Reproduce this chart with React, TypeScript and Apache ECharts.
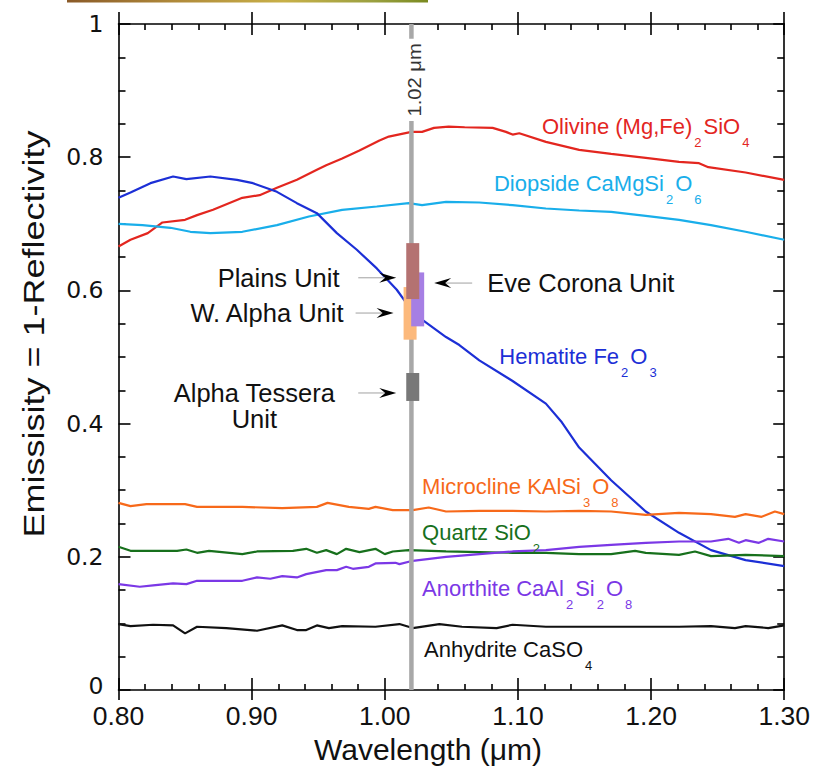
import React, { useEffect, useRef } from 'react';
import * as echarts from 'echarts';

// ---------- Data ----------
const olivineX = [0.800,0.809,0.822,0.833,0.850,0.859,0.871,0.893,0.906,0.919,0.934,0.949,0.956,0.968,0.981,0.996,1.003,1.020,1.028,1.037,1.048,1.060,1.081,1.091,1.096,1.101,1.121,1.146,1.170,1.196,1.221,1.236,1.243,1.271,1.300];
const olivineY = [0.666,0.676,0.686,0.702,0.706,0.713,0.721,0.739,0.743,0.754,0.766,0.781,0.788,0.798,0.810,0.825,0.831,0.838,0.838,0.844,0.846,0.845,0.844,0.838,0.834,0.836,0.823,0.811,0.805,0.799,0.793,0.791,0.785,0.777,0.766];

const diopsideX = [0.800,0.818,0.839,0.854,0.869,0.893,0.919,0.943,0.968,0.994,1.018,1.028,1.046,1.071,1.096,1.121,1.146,1.170,1.196,1.221,1.245,1.271,1.300];
const diopsideY = [0.700,0.698,0.694,0.688,0.686,0.688,0.698,0.711,0.721,0.726,0.731,0.728,0.733,0.732,0.728,0.723,0.720,0.718,0.712,0.706,0.698,0.688,0.676];

const hematiteX = [0.800,0.809,0.824,0.841,0.851,0.869,0.889,0.901,0.919,0.934,0.949,0.964,0.979,0.994,1.009,1.018,1.028,1.046,1.056,1.071,1.096,1.121,1.133,1.146,1.170,1.196,1.221,1.245,1.271,1.300];
const hematiteY = [0.739,0.747,0.761,0.771,0.767,0.771,0.766,0.761,0.748,0.731,0.716,0.686,0.661,0.633,0.601,0.576,0.556,0.530,0.518,0.495,0.464,0.430,0.402,0.364,0.315,0.268,0.236,0.210,0.195,0.186];

const microclineX = [0.800,0.809,0.821,0.850,0.859,0.893,0.923,0.949,0.957,0.973,0.988,0.993,1.006,1.021,1.033,1.046,1.071,1.096,1.121,1.146,1.170,1.196,1.221,1.245,1.263,1.271,1.283,1.293,1.300];
const microclineY = [0.281,0.276,0.279,0.279,0.275,0.275,0.273,0.275,0.281,0.275,0.272,0.275,0.270,0.270,0.274,0.268,0.269,0.269,0.268,0.269,0.268,0.263,0.266,0.264,0.260,0.264,0.260,0.268,0.264];

const quartzX = [0.800,0.809,0.844,0.851,0.859,0.868,0.893,0.904,0.931,0.941,0.949,0.956,0.964,0.971,0.981,0.993,1.000,1.006,1.018,1.046,1.071,1.096,1.121,1.146,1.170,1.188,1.196,1.221,1.233,1.245,1.271,1.300];
const quartzY = [0.215,0.209,0.209,0.211,0.206,0.209,0.204,0.208,0.209,0.212,0.206,0.210,0.204,0.212,0.207,0.212,0.204,0.208,0.210,0.208,0.207,0.206,0.206,0.204,0.204,0.209,0.206,0.203,0.208,0.201,0.203,0.201];

const anorthiteX = [0.800,0.816,0.826,0.841,0.851,0.859,0.893,0.904,0.914,0.923,0.934,0.941,0.956,0.964,0.971,0.976,0.988,0.993,1.008,1.011,1.021,1.046,1.071,1.096,1.121,1.146,1.170,1.196,1.221,1.245,1.258,1.266,1.271,1.281,1.288,1.300];
const anorthiteY = [0.159,0.155,0.157,0.160,0.159,0.164,0.164,0.169,0.167,0.171,0.169,0.174,0.180,0.180,0.185,0.182,0.185,0.190,0.191,0.189,0.194,0.200,0.204,0.208,0.210,0.215,0.218,0.221,0.223,0.223,0.227,0.221,0.225,0.221,0.227,0.223];

const anhydriteX = [0.800,0.809,0.826,0.841,0.850,0.859,0.881,0.904,0.923,0.934,0.941,0.949,0.958,0.968,0.993,1.011,1.021,1.041,1.058,1.084,1.096,1.121,1.146,1.170,1.196,1.221,1.245,1.263,1.271,1.288,1.300];
const anhydriteY = [0.099,0.096,0.098,0.097,0.085,0.095,0.093,0.089,0.097,0.090,0.090,0.097,0.093,0.096,0.095,0.099,0.093,0.099,0.095,0.093,0.098,0.095,0.095,0.095,0.095,0.095,0.096,0.093,0.096,0.093,0.097];

// mineral label texts (rich markup for subscripts) and anchor positions (data units)
const mineralNames = ['Olivine', 'Diopside', 'Hematite', 'Microcline', 'Quartz', 'Anorthite', 'Anhydrite'];
const mineralLabels = [
  '{m|Olivine (Mg,Fe)}{s|2}{m|SiO}{s|4}',
  '{m|Diopside CaMgSi}{s|2}{m|O}{s|6}',
  '{m|Hematite Fe}{s|2}{m|O}{s|3}',
  '{m|Microcline KAlSi}{s|3}{m|O}{s|8}',
  '{m|Quartz SiO}{s|2}',
  '{m|Anorthite CaAl}{s|2}{m|Si}{s|2}{m|O}{s|8}',
  '{m|Anhydrite CaSO}{s|4}',
];
const mineralLabelX = [1.118, 1.082, 1.086, 1.028, 1.028, 1.028, 1.0295];
const mineralLabelY = [0.846, 0.761, 0.5005, 0.306, 0.236, 0.153, 0.061];

// reference wavelength
const refWavelength = 1.02;
const refLabel = '1.02 μm';
const refLabelY = 0.916;

// Venus units emissivity ranges at 1.02 µm
const unitNames = ['W. Alpha Unit', 'Eve Corona Unit', 'Plains Unit', 'Alpha Tessera\nUnit'];
const unitX = [1.019, 1.0247, 1.021, 1.021];
const unitLow = [0.526, 0.546, 0.587, 0.434];
const unitHigh = [0.605, 0.627, 0.671, 0.476];
const unitArrowY = [0.566, 0.611, 0.619, 0.446];
const unitLabelX = [0.969, 1.077, 0.966, 0.902];
const unitSide = ['left', 'right', 'left', 'left'];

const xTitle = 'Wavelength (μm)';
const yTitle = 'Emissisity = 1-Reflectivity';

// ---------- Styles ----------
const FONT = '"Liberation Sans", Arial, Helvetica, sans-serif';
const YFONT = '"DejaVu Sans", sans-serif';
const mineralColors = ['#e3261f', '#19aeea', '#1c2fd6', '#f7691a', '#17701c', '#7b38e6', '#111111'];
const mineralSeries = [
  [olivineX, olivineY],
  [diopsideX, diopsideY],
  [hematiteX, hematiteY],
  [microclineX, microclineY],
  [quartzX, quartzY],
  [anorthiteX, anorthiteY],
  [anhydriteX, anhydriteY],
];
const unitColors = ['#fcb97c', '#a67fe4', '#b47271', '#787878'];

function pairs(xs: number[], ys: number[]) {
  return xs.map((x, i) => [x, ys[i]]);
}

function richFor(color: string) {
  return {
    m: { fontSize: 22, fontFamily: FONT, fill: color, lineHeight: 26 },
    s: { fontSize: 13, fontFamily: FONT, fill: color, lineHeight: 26, padding: [32, 2, 0, 2] },
  };
}

export default function App() {
  const ref = useRef<HTMLDivElement>(null);
  useEffect(() => {
    document.body.style.margin = '0';
    const chart = echarts.init(ref.current as HTMLDivElement, null, { renderer: 'svg' });

    const axisCommon = {
      type: 'value',
      min: 0.8,
      max: 1.3,
      interval: 0.1,
      splitLine: { show: false },
    };
    const yCommon = {
      type: 'value',
      min: 0,
      max: 1,
      interval: 0.2,
      splitLine: { show: false },
    };
    const blackLine = { color: '#000', width: 1.6 };

    const option: any = {
      animation: false,
      backgroundColor: '#fff',
      grid: { left: 118.5, right: 27, top: 24, bottom: 82 },
      xAxis: [
        {
          ...axisCommon,
          position: 'bottom',
          axisLine: { show: true, lineStyle: blackLine },
          axisTick: { show: true, inside: true, length: 12, lineStyle: blackLine },
          minorTick: { show: true, splitNumber: 5, length: 6, lineStyle: blackLine },
          axisLabel: {
            show: true,
            margin: 15,
            fontSize: 26.5,
            lineHeight: 22,
            fontFamily: FONT,
            color: '#111',
            formatter: (v: number) => v.toFixed(2),
          },
        },
        {
          ...axisCommon,
          position: 'bottom',
          axisLine: { show: false },
          axisTick: { show: true, inside: false, length: 10, lineStyle: blackLine },
          axisLabel: { show: false },
        },
        {
          ...axisCommon,
          position: 'top',
          axisLine: { show: true, lineStyle: blackLine },
          axisTick: { show: true, inside: true, length: 11, lineStyle: blackLine },
          minorTick: { show: true, splitNumber: 5, length: 6, lineStyle: blackLine },
          axisLabel: { show: false },
        },
        {
          ...axisCommon,
          position: 'top',
          axisLine: { show: false },
          axisTick: { show: true, inside: false, length: 12, lineStyle: blackLine },
          axisLabel: { show: false },
        },
      ],
      yAxis: [
        {
          ...yCommon,
          position: 'left',
          axisLine: { show: true, lineStyle: blackLine },
          axisTick: { show: true, inside: true, length: 12, lineStyle: blackLine },
          minorTick: { show: true, splitNumber: 4, length: 7, lineStyle: blackLine },
          axisLabel: {
            show: true,
            margin: 15,
            fontSize: 23.5,
            lineHeight: 20,
            fontFamily: YFONT,
            color: '#111',
            formatter: (v: number) => (v === 0 ? '{z|0}' : v === 1 ? '1' : v.toFixed(1)),
            rich: {
              z: { fontSize: 23.5, fontFamily: YFONT, color: '#111', lineHeight: 20, padding: [0, 0, 8, 0] },
            },
          },
        },
        {
          ...yCommon,
          position: 'right',
          axisLine: { show: true, lineStyle: blackLine },
          axisTick: { show: true, inside: true, length: 11, lineStyle: blackLine },
          minorTick: { show: true, splitNumber: 4, length: 7, lineStyle: blackLine },
          axisLabel: { show: false },
        },
      ],
      series: [
        ...mineralSeries.map(([xs, ys], i) => ({
          type: 'line',
          name: mineralNames[i],
          xAxisIndex: 0,
          yAxisIndex: 0,
          data: pairs(xs, ys),
          symbol: 'none',
          showSymbol: false,
          silent: true,
          z: 2,
          lineStyle: { color: mineralColors[i], width: 2.2 },
          itemStyle: { color: mineralColors[i] },
        })),
        {
          type: 'line',
          name: refLabel,
          xAxisIndex: 0,
          yAxisIndex: 0,
          data: [[refWavelength, 0], [refWavelength, 1]],
          symbol: 'none',
          silent: true,
          z: 3,
          lineStyle: { color: '#a8a8a8', width: 4.5 },
        },
        {
          type: 'custom',
          name: 'units',
          xAxisIndex: 0,
          yAxisIndex: 0,
          z: 4,
          silent: true,
          data: unitX.map((x, i) => [x, unitLow[i], unitHigh[i]]),
          encode: { x: 0, y: [1, 2] },
          renderItem: (params: any, api: any) => {
            const x = api.value(0);
            const lo = api.value(1);
            const hi = api.value(2);
            const top = api.coord([x, hi]);
            const bot = api.coord([x, lo]);
            return {
              type: 'rect',
              shape: { x: top[0] - 6.5, y: top[1], width: 13, height: bot[1] - top[1] },
              style: { fill: unitColors[params.dataIndex] },
            };
          },
        },
      ],
    };
    chart.setOption(option);

    const px = (x: number, y: number) =>
      chart.convertToPixel({ xAxisIndex: 0, yAxisIndex: 0 }, [x, y]) as number[];

    const g: any[] = [];
    g.push({
      type: 'rect',
      z: 100,
      silent: true,
      shape: { x: 67, y: 0, width: 361, height: 2.5 },
      style: {
        fill: new echarts.graphic.LinearGradient(0, 0, 1, 0, [
          { offset: 0, color: '#8a5a28' },
          { offset: 0.3, color: '#b08a3a' },
          { offset: 0.6, color: '#c8b048' },
          { offset: 0.85, color: '#9aa040' },
          { offset: 1, color: '#7a8a20' },
        ]),
      },
    });
    g.push({
      type: 'text',
      x: 34,
      y: 334,
      rotation: Math.PI / 2,
      scaleX: 1.2,
      z: 100,
      style: { text: yTitle, fontSize: 30, fontFamily: FONT, fill: '#111', align: 'center', verticalAlign: 'middle' },
    });
    g.push({
      type: 'text',
      x: 428,
      y: 749,
      z: 100,
      style: { text: xTitle, fontSize: 30, fontFamily: FONT, fill: '#111', align: 'center', verticalAlign: 'middle' },
    });

    // reference line label
    const [rlx, rly] = px(refWavelength, refLabelY);
    g.push({
      type: 'text',
      x: rlx + 3,
      y: rly,
      rotation: Math.PI / 2,
      scaleX: 1.12,
      z: 100,
      style: {
        text: refLabel,
        fontSize: 18,
        fontFamily: FONT,
        fill: '#333',
        align: 'center',
        verticalAlign: 'middle',
        backgroundColor: '#fff',
        padding: [0, 4],
      },
    });

    // mineral labels
    mineralLabels.forEach((t, i) => {
      const [x, y] = px(mineralLabelX[i], mineralLabelY[i]);
      g.push({
        type: 'text',
        x,
        y,
        z: 100,
        style: {
          text: t,
          rich: richFor(mineralColors[i]),
          fill: mineralColors[i],
          fontSize: 22,
          fontFamily: FONT,
          lineHeight: 26,
          align: 'left',
          verticalAlign: 'middle',
        },
      });
    });

    // unit labels + arrows
    unitNames.forEach((name, i) => {
      const [cx] = px(unitX[i], 0);
      const [, ay] = px(unitX[i], unitArrowY[i]);
      const [lx] = px(unitLabelX[i], 0);
      const left = unitSide[i] === 'left';
      const tip = left ? cx - 6.5 - 10 : cx + 6.5 + 10;
      const dir = left ? 1 : -1;
      const tail = tip - dir * 38;
      const headLen = 17;
      const notch = 11;
      g.push({
        type: 'line',
        z: 100,
        silent: true,
        shape: { x1: tail, y1: ay, x2: tip - dir * notch, y2: ay },
        style: { stroke: '#b0b0b0', lineWidth: 1.2 },
      });
      g.push({
        type: 'polygon',
        z: 101,
        silent: true,
        shape: {
          points: [
            [tip, ay],
            [tip - dir * headLen, ay - 5],
            [tip - dir * notch, ay],
            [tip - dir * headLen, ay + 5],
          ],
        },
        style: { fill: '#000' },
      });
      const lines = name.split('\n');
      lines.forEach((ln, k) => {
        g.push({
          type: 'text',
          x: lx,
          y: ay + k * 26,
          z: 100,
          style: {
            text: ln,
            fontSize: 25.5,
            fontFamily: FONT,
            fill: '#111',
            lineHeight: 24,
            align: lines.length > 1 ? 'center' : left ? 'right' : 'left',
            verticalAlign: 'middle',
          },
        });
      });
    });

    chart.setOption({ graphic: g });

    return () => {
      chart.dispose();
    };
  }, []);

  return <div ref={ref} style={{ width: 813, height: 772 }} />;
}
